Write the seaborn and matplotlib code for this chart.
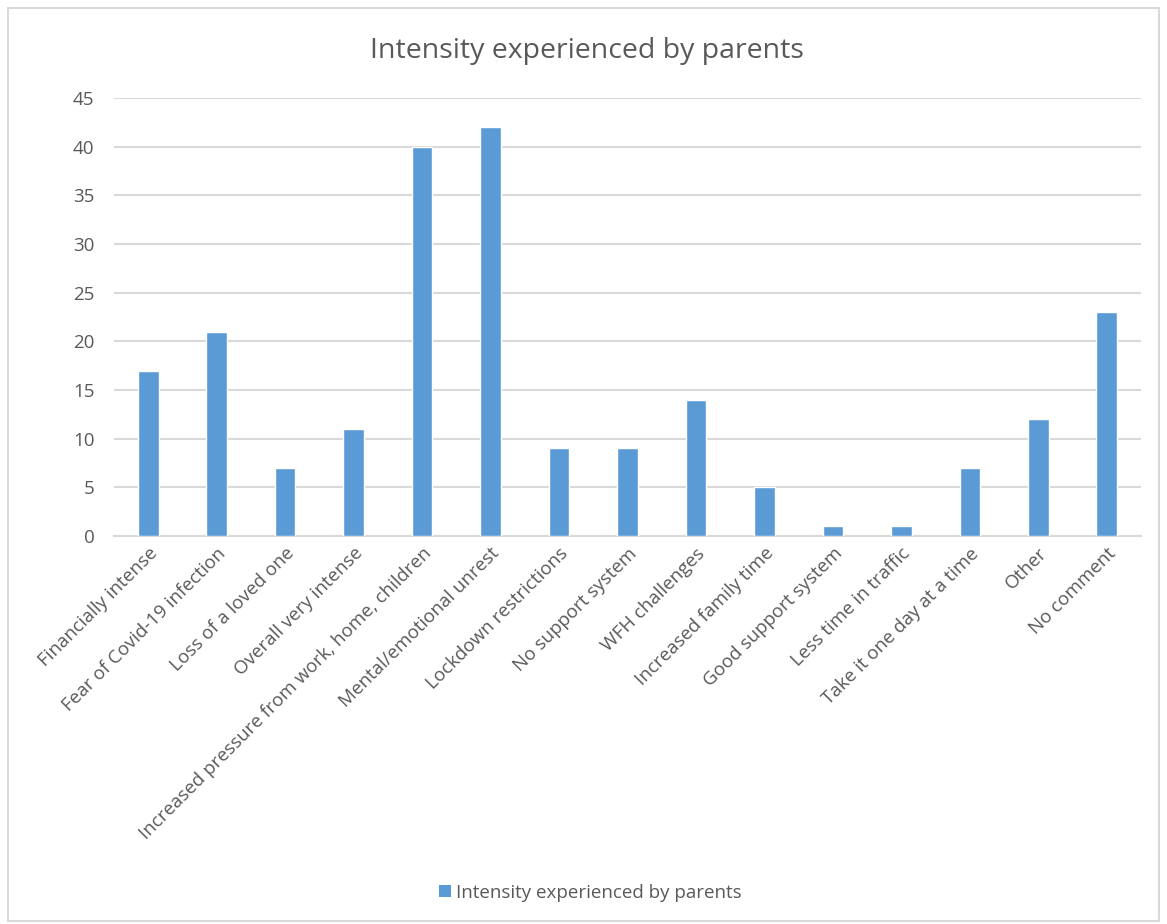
import matplotlib
matplotlib.use("Agg")
import matplotlib.pyplot as plt
import seaborn as sns
import pandas as pd
from matplotlib.patches import Rectangle, Patch

categories = [
    "Financially intense", "Fear of Covid-19 infection", "Loss of a loved one",
    "Overall very intense", "Increased pressure from work, home, children",
    "Mental/emotional unrest", "Lockdown restrictions", "No support system",
    "WFH challenges", "Increased family time", "Good support system",
    "Less time in traffic", "Take it one day at a time", "Other", "No comment",
]
values = [17, 21, 7, 11, 40, 42, 9, 9, 14, 5, 1, 1, 7, 12, 23]
series_name = "Intensity experienced by parents"
yticks = [0, 5, 10, 15, 20, 25, 30, 35, 40, 45]

sns.set_theme(style="white")
plt.rcParams['font.family'] = ['Open Sans', 'DejaVu Sans']

df = pd.DataFrame({"cat": categories, "val": values})
fig = plt.figure(figsize=(11.67, 9.24), dpi=100)
ax = fig.add_axes([0.0977, 0.4199, 0.88, 0.4741])

bar_color = "#5B9BD5"
sns.barplot(data=df, x="cat", y="val", color=bar_color, width=0.3, ax=ax,
            saturation=1, zorder=3)

text_color = "#595959"
ax.set_ylim(0, 45)
ax.set_yticks(yticks)
ax.set_xlim(-0.5, len(categories) - 0.5)
ax.yaxis.grid(True, color="#D9D9D9", linewidth=1.5, zorder=0)
ax.set_axisbelow(True)
for s in ["top", "right", "left"]:
    ax.spines[s].set_visible(False)
ax.spines["bottom"].set_color("#D9D9D9")
ax.spines["bottom"].set_linewidth(1.5)
ax.set_xlabel("")
ax.set_ylabel("")
ax.tick_params(axis="y", length=0, labelsize=13.5, labelcolor=text_color, pad=14)
ax.tick_params(axis="x", length=0, labelsize=13.5, labelcolor=text_color, pad=6)
plt.setp(ax.get_xticklabels(), rotation=45, ha="right", rotation_mode="anchor")

fig.text(0.503, 0.945, "Intensity experienced by parents", ha="center", va="center",
         fontsize=20.5, color=text_color)

handle = Patch(facecolor=bar_color, edgecolor="none")
fig.legend([handle], [series_name], loc="center", bbox_to_anchor=(0.506, 0.034),
           frameon=False, fontsize=13.5, labelcolor=text_color, handlelength=0.6,
           handleheight=0.6, handletextpad=0.3)

fig.patches.append(Rectangle((0.007, 0.003), 0.986, 0.988, transform=fig.transFigure,
                             fill=False, edgecolor="#D9D9D9", linewidth=1.5))

fig.savefig("out.png", dpi=100)
